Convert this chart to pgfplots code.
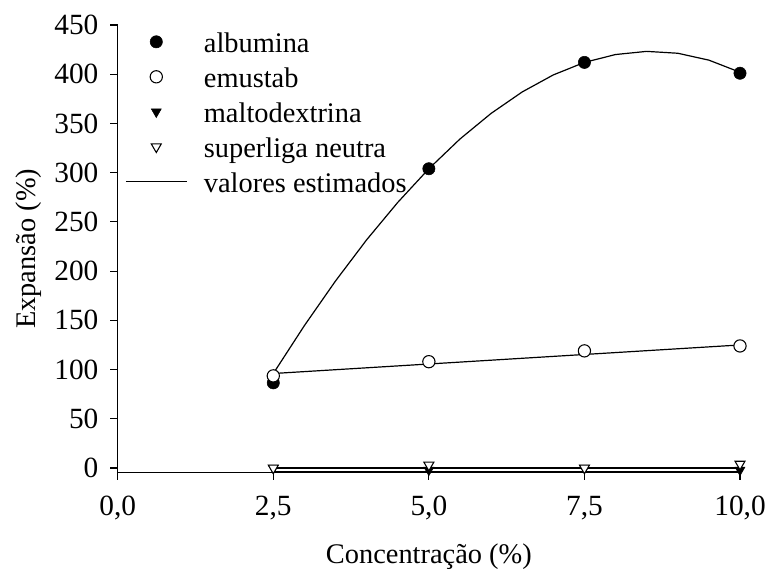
\documentclass[border=0pt]{standalone}
\usepackage{fontspec}
\setmainfont{Liberation Serif}
\usepackage{pgfplots}
\pgfplotsset{compat=1.18}
\newcommand{\chartfont}{\fontsize{21.3}{25}\selectfont}
\newcommand{\tickfont}{\fontsize{22}{26}\selectfont}
\pgfplotsset{
  marklegend/.style={legend image code/.code={%
    \path (0cm,0cm) (1.6cm,0cm);
    \draw[##1] plot coordinates {(0.8cm,0.3em)};}},
  linelegend/.style={legend image code/.code={%
    \draw[black, line width=0.9pt] (0cm,0.3em) -- (1.6cm,0.3em);}},
}

\begin{document}
\begin{tikzpicture}[font=\chartfont]
\begin{axis}[
  name=ax,
  scale only axis,
  width=466.7pt, height=335.6pt,
  xmin=0, xmax=10, ymin=-4.5, ymax=450,
  clip=false,
  axis x line*=bottom, axis y line*=left,
  axis line style={-, line width=0.9pt},
  tick align=outside,
  major tick length=5.5pt,
  tick style={line width=0.9pt, black},
  xtick={0,2.5,5,7.5,10},
  xticklabels={{0,0},{2,5},{5,0},{7,5},{10,0}},
  ytick={0,50,...,450},
  /pgf/number format/assume math mode=true,
  every tick label/.append style={font=\tickfont},
  xticklabel style={yshift=-8.5pt},
  yticklabel style={xshift=-5.5pt},
  xlabel={Concentração (\%)},
  ylabel={Expansão (\%)},
  xlabel style={font=\chartfont, at={(axis description cs:0.5,-0.2026)}, anchor=base},
  ylabel style={font=\chartfont, at={(axis description cs:-0.1328,0.5)}, anchor=base},
  legend style={font=\chartfont, draw=none, fill=none,
    at={(axis description cs:0.0118,0.9814)}, anchor=north west,
    inner sep=0pt, row sep=7.9pt, column sep=12.5pt,
    nodes={inner sep=0pt, text height=14.35pt, text depth=4pt}},
  legend cell align=left,
]
% fitted curves
\addplot[black, line width=0.9pt, forget plot] coordinates {
  (2.5,96) (3.0,144.7) (3.5,190.0) (4.0,231.8) (4.5,269.8) (5.0,304)
  (5.5,334.2) (6.0,360.2) (6.5,382.0) (7.0,399.3) (7.5,412) (8.0,420.0)
  (8.5,423.2) (9.0,421.3) (9.5,414.3) (10.0,402)};
\addplot[black, line width=0.9pt, forget plot] coordinates {(2.5,96) (10,125)};
\addplot[black, line width=0.9pt, forget plot] coordinates {(2.5,0) (10,0)};
\addplot[black, line width=0.9pt, forget plot] coordinates {(2.5,-4) (10,-4)};

% measured values
\addplot[only marks, mark=*, mark size=4.6pt, mark options={fill=black, draw=black}, marklegend]
  coordinates {(2.5,86.5) (5,304) (7.5,412) (10,401)};
\addlegendentry{albumina}
\addplot[only marks, mark=*, mark size=4.6pt, mark options={fill=white, draw=black, line width=0.8pt}, marklegend]
  coordinates {(2.5,93.6) (5,108) (7.5,119) (10,124)};
\addlegendentry{emustab}
\addplot[only marks, mark=triangle*, mark size=4.3pt, mark options={rotate=180, fill=black, draw=black}, marklegend]
  coordinates {(2.5,0) (5,-2) (7.5,0) (10,-2)};
\addlegendentry{maltodextrina}
\addplot[only marks, mark=triangle*, mark size=4.3pt, mark options={rotate=180, fill=white, draw=black, line width=0.8pt}, marklegend]
  coordinates {(2.5,0) (5,3) (7.5,0) (10,4)};
\addlegendentry{superliga neutra}
\addlegendimage{linelegend}
\addlegendentry{valores estimados}
\end{axis}
\pgfresetboundingbox
\path[use as bounding box] ([shift={(-88.3pt,-72.45pt)}]ax.south west) rectangle ([shift={(21pt,18.75pt)}]ax.north east);
\end{tikzpicture}
\end{document}
